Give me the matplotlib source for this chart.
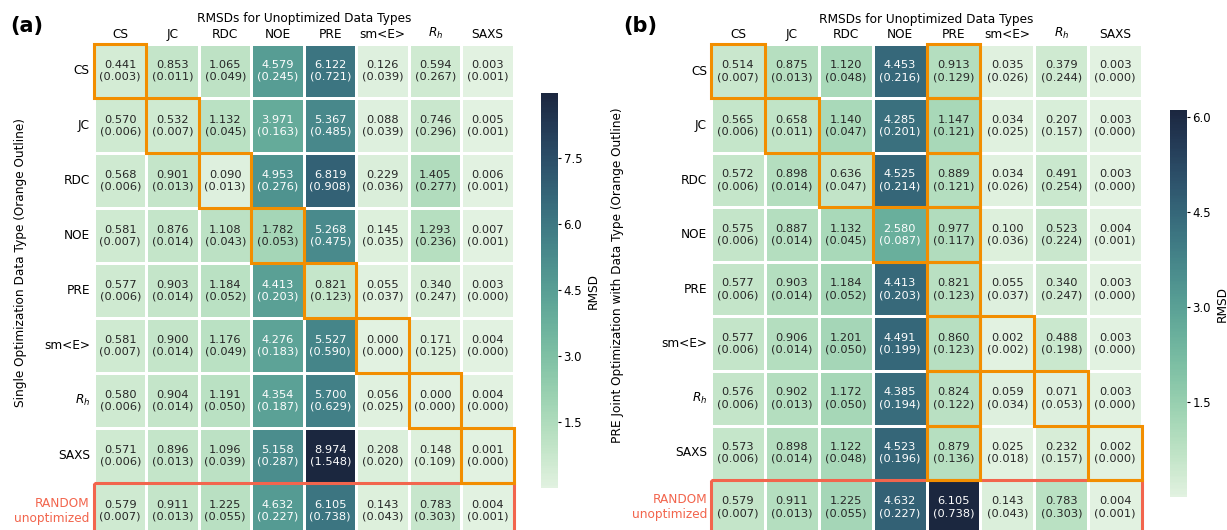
import numpy as np
import matplotlib
matplotlib.use("Agg")
import matplotlib.pyplot as plt
from matplotlib.patches import Rectangle
import seaborn as sns

# data types (rows = optimized, columns = unoptimized)
col_labels = ["CS", "JC", "RDC", "NOE", "PRE", "sm<E>", "$R_h$", "SAXS"]
row_labels = ["CS", "JC", "RDC", "NOE", "PRE", "sm<E>", "$R_h$", "SAXS", "RANDOM\nunoptimized"]

# (a) single optimization: mean RMSD and (sd)
single_mean = [
    [0.441, 0.853, 1.065, 4.579, 6.122, 0.126, 0.594, 0.003],
    [0.570, 0.532, 1.132, 3.971, 5.367, 0.088, 0.746, 0.005],
    [0.568, 0.901, 0.090, 4.953, 6.819, 0.229, 1.405, 0.006],
    [0.581, 0.876, 1.108, 1.782, 5.268, 0.145, 1.293, 0.007],
    [0.577, 0.903, 1.184, 4.413, 0.821, 0.055, 0.340, 0.003],
    [0.581, 0.900, 1.176, 4.276, 5.527, 0.000, 0.171, 0.004],
    [0.580, 0.904, 1.191, 4.354, 5.700, 0.056, 0.000, 0.004],
    [0.571, 0.896, 1.096, 5.158, 8.974, 0.208, 0.148, 0.001],
    [0.579, 0.911, 1.225, 4.632, 6.105, 0.143, 0.783, 0.004],
]
single_sd = [
    [0.003, 0.011, 0.049, 0.245, 0.721, 0.039, 0.267, 0.001],
    [0.006, 0.007, 0.045, 0.163, 0.485, 0.039, 0.296, 0.001],
    [0.006, 0.013, 0.013, 0.276, 0.908, 0.036, 0.277, 0.001],
    [0.007, 0.014, 0.043, 0.053, 0.475, 0.035, 0.236, 0.001],
    [0.006, 0.014, 0.052, 0.203, 0.123, 0.037, 0.247, 0.000],
    [0.007, 0.014, 0.049, 0.183, 0.590, 0.000, 0.125, 0.000],
    [0.006, 0.014, 0.050, 0.187, 0.629, 0.025, 0.000, 0.000],
    [0.006, 0.013, 0.039, 0.287, 1.548, 0.020, 0.109, 0.000],
    [0.007, 0.013, 0.055, 0.227, 0.738, 0.043, 0.303, 0.001],
]

# (b) PRE joint optimization: mean RMSD and (sd)
joint_mean = [
    [0.514, 0.875, 1.120, 4.453, 0.913, 0.035, 0.379, 0.003],
    [0.565, 0.658, 1.140, 4.285, 1.147, 0.034, 0.207, 0.003],
    [0.572, 0.898, 0.636, 4.525, 0.889, 0.034, 0.491, 0.003],
    [0.575, 0.887, 1.132, 2.580, 0.977, 0.100, 0.523, 0.004],
    [0.577, 0.903, 1.184, 4.413, 0.821, 0.055, 0.340, 0.003],
    [0.577, 0.906, 1.201, 4.491, 0.860, 0.002, 0.488, 0.003],
    [0.576, 0.902, 1.172, 4.385, 0.824, 0.059, 0.071, 0.003],
    [0.573, 0.898, 1.122, 4.523, 0.879, 0.025, 0.232, 0.002],
    [0.579, 0.911, 1.225, 4.632, 6.105, 0.143, 0.783, 0.004],
]
joint_sd = [
    [0.007, 0.013, 0.048, 0.216, 0.129, 0.026, 0.244, 0.000],
    [0.006, 0.011, 0.047, 0.201, 0.121, 0.025, 0.157, 0.000],
    [0.006, 0.014, 0.047, 0.214, 0.121, 0.026, 0.254, 0.000],
    [0.006, 0.014, 0.045, 0.087, 0.117, 0.036, 0.224, 0.001],
    [0.006, 0.014, 0.052, 0.203, 0.123, 0.037, 0.247, 0.000],
    [0.006, 0.014, 0.050, 0.199, 0.123, 0.002, 0.198, 0.000],
    [0.006, 0.013, 0.050, 0.194, 0.122, 0.034, 0.053, 0.000],
    [0.006, 0.014, 0.048, 0.196, 0.136, 0.018, 0.157, 0.000],
    [0.007, 0.013, 0.055, 0.227, 0.738, 0.043, 0.303, 0.001],
]

cbar_ticks_a = [1.5, 3.0, 4.5, 6.0, 7.5]
cbar_ticks_b = [1.5, 3.0, 4.5, 6.0]

ORANGE = "#f28e00"
RED = "#f2654d"
cmap = sns.cubehelix_palette(start=0, rot=-.4, hue=0.85, light=.92, dark=.15, as_cmap=True)

fig = plt.figure(figsize=(12.27, 5.3), dpi=100)


def draw_panel(ax, cax, mean, sd, ylabel, ticks, extra_col=None, ylab_x=-0.16, ylab_y=0.56):
    mean = np.array(mean)
    sd = np.array(sd)
    annot = np.array([[f"{m:.3f}\n({s:.3f})" for m, s in zip(rm, rs)]
                      for rm, rs in zip(mean, sd)])
    sns.heatmap(mean, ax=ax, cbar_ax=cax, cmap=cmap, annot=annot, fmt="",
                annot_kws={"size": 8.2}, linewidths=1, linecolor="white",
                xticklabels=col_labels, yticklabels=row_labels)
    ax.xaxis.tick_top()
    ax.xaxis.set_label_position("top")
    ax.tick_params(axis="both", length=0, labelsize=8.7)
    ax.tick_params(axis="x", pad=2)
    ax.tick_params(axis="y", pad=3)
    plt.setp(ax.get_xticklabels(), rotation=0)
    plt.setp(ax.get_yticklabels(), rotation=0, ha="right")
    ax.get_yticklabels()[-1].set_color(RED)

    ax.set_xlabel("RMSDs for Unoptimized Data Types", fontsize=8.7)
    ax.xaxis.set_label_coords(0.5, 1.043)
    ax.set_ylabel(ylabel, fontsize=8.7)
    ax.yaxis.set_label_coords(ylab_x, ylab_y)

    n = len(col_labels)
    # diagonal boxes, plus the jointly optimized column
    for i in range(n):
        ax.add_patch(Rectangle((i, i), 1, 1, fill=False, edgecolor=ORANGE,
                               lw=2.2, clip_on=False, zorder=5))
        if extra_col is not None and i != extra_col:
            ax.add_patch(Rectangle((extra_col, i), 1, 1, fill=False, edgecolor=ORANGE,
                                   lw=2.2, clip_on=False, zorder=5))
    ax.add_patch(Rectangle((0, n), n, 1, fill=False, edgecolor=RED,
                           lw=2.2, clip_on=False, zorder=4))

    cax.set_yticks(ticks)
    cax.tick_params(labelsize=8.5, length=2.5, width=0.8, pad=1.5)
    cax.set_ylabel("RMSD", fontsize=8.7, labelpad=3)


ax_a = fig.add_axes([0.0766, -0.0151, 0.3423, 0.933])
cax_a = fig.add_axes([0.4409, 0.0792, 0.0139, 0.7453])
draw_panel(ax_a, cax_a, single_mean, single_sd,
           "Single Optimization Data Type (Orange Outline)", cbar_ticks_a,
           ylab_x=-0.16, ylab_y=0.558)

ax_b = fig.add_axes([0.5795, -0.0085, 0.3513, 0.9255])
cax_b = fig.add_axes([0.9535, 0.0623, 0.0139, 0.730])
draw_panel(ax_b, cax_b, joint_mean, joint_sd,
           "PRE Joint Optimization with Data Type (Orange Outline)", cbar_ticks_b,
           extra_col=4, ylab_x=-0.202, ylab_y=0.529)

# panel letters
fig.text(10 / 1227, 1 - 26 / 530, "(a)", fontsize=15, fontweight="bold", ha="left", va="center")
fig.text(623 / 1227, 1 - 26 / 530, "(b)", fontsize=15, fontweight="bold", ha="left", va="center")

fig.savefig("out.png", dpi=100)
